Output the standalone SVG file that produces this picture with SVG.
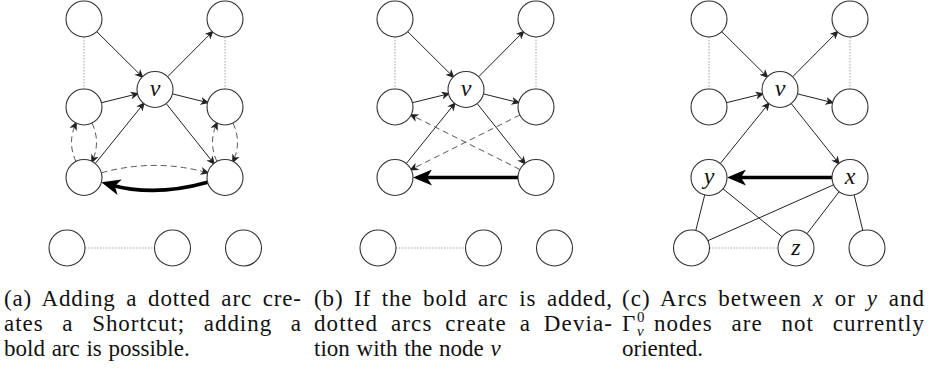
<svg xmlns="http://www.w3.org/2000/svg" width="930" height="370" viewBox="0 0 930 370">
<style>
.n{fill:#fff;stroke:#333;stroke-width:1.1}
.lbl{font-family:"Liberation Serif","Times New Roman","DejaVu Serif",serif;font-style:italic;font-size:24px;fill:#111;text-anchor:middle}
.s{fill:none;stroke:#222;stroke-width:1}
.d{fill:none;stroke:#444;stroke-width:0.9;stroke-dasharray:6 4}
.o{fill:none;stroke:#999;stroke-width:0.9;stroke-dasharray:1.5 1.5}
.b{fill:none;stroke:#000;stroke-width:3.6}
.cap{font-family:"Liberation Serif","Times New Roman","DejaVu Serif",serif;font-size:23px;fill:#111}
.it{font-style:italic}
</style>
<defs>
<marker id="ar" markerUnits="userSpaceOnUse" markerWidth="11" markerHeight="8" refX="7" refY="4" orient="auto"><path d="M0,0 L9,4 L0,8 L2.5,4 z" fill="#222"/></marker>
<marker id="ab" markerUnits="userSpaceOnUse" markerWidth="21" markerHeight="16" refX="9" refY="8" orient="auto"><path d="M0,0 L19,8 L0,16 L5,8 z" fill="#000"/></marker>
</defs>

<g id="connectors">
<!-- panel a -->
<line class="s" x1="96.8" y1="31.7" x2="142.2" y2="76.8" marker-end="url(#ar)"/>
<line class="s" x1="167.7" y1="76.7" x2="212.3" y2="31.8" marker-end="url(#ar)"/>
<line class="s" x1="101.5" y1="102.7" x2="137.5" y2="93.8" marker-end="url(#ar)"/>
<line class="s" x1="172.5" y1="93.9" x2="207.5" y2="102.6" marker-end="url(#ar)"/>
<line class="s" x1="95.3" y1="163.5" x2="143.7" y2="103.5" marker-end="url(#ar)"/>
<line class="s" x1="166.2" y1="103.6" x2="213.8" y2="163.4" marker-end="url(#ar)"/>
<line class="o" x1="84" y1="37" x2="84" y2="89"/>
<line class="o" x1="225" y1="37" x2="225" y2="89"/>
<line class="o" x1="85" y1="248" x2="154.5" y2="248"/>
<path class="d" d="M76,161.6 Q67,142.4 76,123.1" marker-end="url(#ar)"/>
<path class="d" d="M92,123.1 Q101,142.4 92,161.6" marker-end="url(#ar)"/>
<path class="d" d="M217,161.6 Q208,142.4 217,123.1" marker-end="url(#ar)"/>
<path class="d" d="M233,123.1 Q242,142.4 233,161.6" marker-end="url(#ar)"/>
<path class="d" d="M101.4,172.8 Q155,158 207.6,172.8" marker-end="url(#ar)"/>
<path class="b" d="M207.6,182.2 Q155,197 111,184.9" marker-end="url(#ab)"/>
<!-- panel b -->
<line class="s" x1="407.8" y1="31.7" x2="453.2" y2="76.8" marker-end="url(#ar)"/>
<line class="s" x1="478.7" y1="76.7" x2="523.3" y2="31.8" marker-end="url(#ar)"/>
<line class="s" x1="412.5" y1="102.7" x2="448.5" y2="93.8" marker-end="url(#ar)"/>
<line class="s" x1="483.5" y1="93.9" x2="518.5" y2="102.6" marker-end="url(#ar)"/>
<line class="s" x1="406.3" y1="163.5" x2="454.7" y2="103.5" marker-end="url(#ar)"/>
<line class="s" x1="477.2" y1="103.6" x2="524.8" y2="163.4" marker-end="url(#ar)"/>
<line class="o" x1="395" y1="37" x2="395" y2="89"/>
<line class="o" x1="536" y1="37" x2="536" y2="89"/>
<line class="o" x1="396" y1="248" x2="465.5" y2="248"/>
<line class="d" x1="519.9" y1="115" x2="411.1" y2="169.5" marker-end="url(#ar)"/>
<line class="d" x1="519.9" y1="169.5" x2="411.1" y2="115" marker-end="url(#ar)"/>
<line class="b" x1="518" y1="177.5" x2="423" y2="177.5" marker-end="url(#ab)"/>
<!-- panel c -->
<line class="s" x1="721.8" y1="31.7" x2="767.2" y2="76.8" marker-end="url(#ar)"/>
<line class="s" x1="792.7" y1="76.7" x2="837.3" y2="31.8" marker-end="url(#ar)"/>
<line class="s" x1="726.5" y1="102.7" x2="762.5" y2="93.8" marker-end="url(#ar)"/>
<line class="s" x1="797.5" y1="93.9" x2="832.5" y2="102.6" marker-end="url(#ar)"/>
<line class="s" x1="720.3" y1="163.5" x2="768.7" y2="103.5" marker-end="url(#ar)"/>
<line class="s" x1="791.2" y1="103.6" x2="838.8" y2="163.4" marker-end="url(#ar)"/>
<line class="o" x1="709" y1="37" x2="709" y2="89"/>
<line class="o" x1="850" y1="37" x2="850" y2="89"/>
<line class="o" x1="709.5" y1="248" x2="778" y2="248"/>
<line class="b" x1="832" y1="177.5" x2="737" y2="177.5" marker-end="url(#ab)"/>
<line class="s" x1="704.7" y1="195" x2="695.8" y2="230.5"/>
<line class="s" x1="723" y1="188.8" x2="782" y2="236.7"/>
<line class="s" x1="833.6" y1="184.8" x2="707.9" y2="240.7"/>
<line class="s" x1="839" y1="191.8" x2="807" y2="233.7"/>
<line class="s" x1="854.2" y1="195" x2="862.8" y2="230.5"/>
</g>

<!-- panel a nodes -->
<g id="a-tl"><circle class="n" cx="84" cy="19" r="18"/></g>
<g id="a-tr"><circle class="n" cx="225" cy="19" r="18"/></g>
<g id="a-v"><circle class="n" cx="155" cy="89.5" r="18"/><text class="lbl" x="155" y="96">v</text></g>
<g id="a-ml"><circle class="n" cx="84" cy="107" r="18"/></g>
<g id="a-mr"><circle class="n" cx="225" cy="107" r="18"/></g>
<g id="a-bl"><circle class="n" cx="84" cy="177.5" r="18"/></g>
<g id="a-br"><circle class="n" cx="225" cy="177.5" r="18"/></g>
<g id="a-b1"><circle class="n" cx="67" cy="248" r="18"/></g>
<g id="a-b2"><circle class="n" cx="172.5" cy="248" r="18"/></g>
<g id="a-b3"><circle class="n" cx="243.5" cy="248" r="18"/></g>

<!-- panel b nodes -->
<g id="b-tl"><circle class="n" cx="395" cy="19" r="18"/></g>
<g id="b-tr"><circle class="n" cx="536" cy="19" r="18"/></g>
<g id="b-v"><circle class="n" cx="466" cy="89.5" r="18"/><text class="lbl" x="466" y="96">v</text></g>
<g id="b-ml"><circle class="n" cx="395" cy="107" r="18"/></g>
<g id="b-mr"><circle class="n" cx="536" cy="107" r="18"/></g>
<g id="b-bl"><circle class="n" cx="395" cy="177.5" r="18"/></g>
<g id="b-br"><circle class="n" cx="536" cy="177.5" r="18"/></g>
<g id="b-b1"><circle class="n" cx="378" cy="248" r="18"/></g>
<g id="b-b2"><circle class="n" cx="483.5" cy="248" r="18"/></g>
<g id="b-b3"><circle class="n" cx="554.5" cy="248" r="18"/></g>

<!-- panel c nodes -->
<g id="c-tl"><circle class="n" cx="709" cy="19" r="18"/></g>
<g id="c-tr"><circle class="n" cx="850" cy="19" r="18"/></g>
<g id="c-v"><circle class="n" cx="780" cy="89.5" r="18"/><text class="lbl" x="780" y="96">v</text></g>
<g id="c-ml"><circle class="n" cx="709" cy="107" r="18"/></g>
<g id="c-mr"><circle class="n" cx="850" cy="107" r="18"/></g>
<g id="c-y"><circle class="n" cx="709" cy="177.5" r="18"/><text class="lbl" x="709" y="184">y</text></g>
<g id="c-x"><circle class="n" cx="850" cy="177.5" r="18"/><text class="lbl" x="850" y="184">x</text></g>
<g id="c-b1"><circle class="n" cx="691.5" cy="248" r="18"/></g>
<g id="c-z"><circle class="n" cx="796" cy="248" r="18"/><text class="lbl" x="796" y="254.5">z</text></g>
<g id="c-b3"><circle class="n" cx="867" cy="248" r="18"/></g>

<!-- captions -->
<g id="caption-a">
<text class="cap" x="4" y="305.5" word-spacing="4" textLength="297" lengthAdjust="spacing">(a) Adding a dotted arc cre-</text>
<text class="cap" x="4" y="330.5" word-spacing="12" textLength="297" lengthAdjust="spacing">ates a Shortcut; adding a</text>
<text class="cap" x="4" y="355.5" word-spacing="1">bold arc is possible.</text>
</g>
<g id="caption-b">
<text class="cap" x="314" y="305.5" word-spacing="4" textLength="298" lengthAdjust="spacing">(b) If the bold arc is added,</text>
<text class="cap" x="314" y="330.5" word-spacing="6" textLength="298" lengthAdjust="spacing">dotted arcs create a Devia-</text>
<text class="cap" x="314" y="355.5" word-spacing="1">tion with the node <tspan class="it">v</tspan></text>
</g>
<g id="caption-c">
<text class="cap" x="622" y="305.5" word-spacing="4" textLength="302" lengthAdjust="spacing">(c) Arcs between <tspan class="it">x</tspan> or <tspan class="it">y</tspan> and</text>
<text class="cap" x="622" y="330.5">Γ<tspan font-size="15" x="637" y="322">0</tspan><tspan class="it" font-size="15" x="637" y="335.5">v</tspan></text>
<text class="cap" x="654" y="330.5" word-spacing="12" textLength="270" lengthAdjust="spacing">nodes are not currently</text>
<text class="cap" x="622" y="355.5">oriented.</text>
</g>
</svg>
